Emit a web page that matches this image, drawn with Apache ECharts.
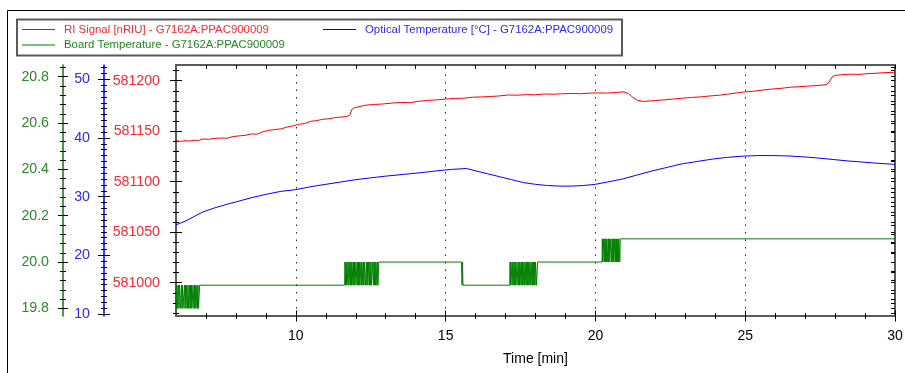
<!DOCTYPE html>
<html><head><meta charset="utf-8">
<script src="https://cdn.jsdelivr.net/npm/echarts@6/dist/echarts.min.js"></script>
<style>html,body{margin:0;padding:0;background:#fff}#c{width:905px;height:373px}</style>
</head><body><div id="c"></div>
<script>
// ---------- DATA ----------
const riName = 'RI Signal [nRIU] - G7162A:PPAC900009';
const optName = 'Optical Temperature [°C] - G7162A:PPAC900009';
const boardName = 'Board Temperature - G7162A:PPAC900009';

const riTime = [6.0,6.15,6.3,6.45,6.6,6.75,6.9,7.1,7.3,7.5,7.7,7.9,8.1,8.3,8.5,8.7,8.9,9.1,9.3,9.5,9.7,9.9,10.1,10.3,10.5,10.7,10.9,11.1,11.3,11.5,11.7,11.8,11.87,11.95,12.1,12.3,12.6,12.9,13.2,13.5,13.8,14.1,14.4,14.7,15.0,15.3,15.6,15.9,16.2,16.5,16.8,17.1,17.4,17.7,18.0,18.3,18.6,18.9,19.2,19.5,19.8,20.1,20.4,20.7,20.95,21.1,21.25,21.4,21.6,21.8,22.0,22.3,22.6,22.9,23.2,23.5,23.8,24.1,24.4,24.7,25.0,25.3,25.6,25.9,26.2,26.5,26.8,27.1,27.4,27.7,27.8,27.9,28.0,28.2,28.5,28.8,29.1,29.4,29.7,30.0];
const riValue = [581140.5,581139.8,581140.6,581140.2,581141.0,581140.8,581142.2,581142.0,581142.9,581143.2,581143.0,581144.6,581145.3,581145.8,581147.2,581147.0,581149.4,581150.8,581151.6,581152.2,581154.0,581155.2,581156.8,581157.6,581159.8,581160.4,581161.8,581162.2,581163.4,581163.9,581164.6,581166.0,581171.5,581173.2,581174.2,581175.6,581176.4,581176.9,581177.8,581178.4,581178.2,581179.6,581180.4,581181.0,581181.8,581182.4,581182.6,581183.6,581183.9,581184.3,581184.9,581185.8,581185.6,581186.2,581186.0,581186.8,581186.6,581187.0,581187.3,581187.1,581187.6,581187.9,581187.7,581188.4,581188.9,581187.2,581183.5,581180.6,581179.4,581179.9,581180.3,581181.0,581181.8,581182.6,581183.4,581183.9,581184.8,581185.5,581186.6,581187.8,581188.9,581189.6,581190.8,581191.7,581192.4,581193.5,581194.0,581194.6,581195.2,581196.0,581198.5,581203.5,581205.2,581205.8,581206.4,581206.2,581207.0,581207.4,581208.0,581208.3];

const optTime = [6.0,6.3,6.6,6.9,7.3,7.7,8.0,8.5,9.0,9.5,10.0,10.5,11.0,11.5,12.0,12.5,13.0,13.6,14.2,14.7,15.2,15.7,16.0,16.4,16.8,17.2,17.6,18.0,18.4,18.8,19.2,19.6,20.0,20.4,20.9,21.4,21.9,22.4,22.9,23.4,23.9,24.4,24.9,25.4,25.9,26.4,26.9,27.4,27.9,28.4,28.9,29.4,30.0];
const optValue = [25.2,25.8,26.6,27.4,28.1,28.7,29.1,29.8,30.4,30.9,31.2,31.7,32.1,32.5,32.9,33.2,33.5,33.8,34.1,34.4,34.65,34.8,34.4,33.9,33.4,32.9,32.4,32.1,31.9,31.8,31.8,31.9,32.1,32.5,33.0,33.7,34.4,35.0,35.6,36.0,36.4,36.7,36.9,37.0,37.0,36.95,36.8,36.6,36.35,36.1,35.9,35.7,35.5];

const boardTime = [6.79,11.63,12.77,15.53,15.55,15.56,15.58,15.61,17.14,18.07,20.22,20.83,30.0];
const boardValue = [19.9,19.9,20.0,20.0,19.9,20.0,19.9,19.9,19.9,20.0,20.0,20.1,20.1];
const boardSamplePeriod = 1 / 60; // 1 s samples inside the noisy stretches
const boardNoiseStart = [6.0, 11.64, 17.15, 20.23];
const boardNoise1 = [19.9,19.8,19.9,19.8,19.8,19.9,19.8,19.9,19.9,19.8,19.8,19.9,19.8,19.9,19.8,19.8,19.8,19.9,19.8,19.9,19.8,19.9,19.9,19.8,19.9,19.8,19.8,19.9,19.8,19.9,19.8,19.9,19.8,19.8,19.9,19.9,19.8,19.9,19.8,19.9,19.8,19.8,19.9,19.8,19.9,19.8,19.8];
const boardNoise2 = [20.0,19.9,20.0,19.9,20.0,20.0,19.9,20.0,19.9,19.9,20.0,19.9,20.0,19.9,20.0,20.0,19.9,20.0,19.9,20.0,19.9,19.9,20.0,20.0,19.9,20.0,19.9,20.0,19.9,20.0,19.9,19.9,20.0,19.9,20.0,20.0,19.9,20.0,19.9,20.0,20.0,19.9,19.9,20.0,19.9,20.0,19.9,20.0,20.0,19.9,20.0,19.9,20.0,19.9,19.9,20.0,20.0,19.9,20.0,19.9,20.0,19.9,20.0,20.0,19.9,20.0,19.9];
const boardNoise3 = [20.0,19.9,20.0,20.0,19.9,20.0,19.9,19.9,20.0,19.9,20.0,19.9,20.0,20.0,19.9,19.9,20.0,19.9,20.0,19.9,20.0,20.0,19.9,20.0,19.9,20.0,19.9,19.9,20.0,19.9,20.0,20.0,19.9,20.0,19.9,20.0,19.9,20.0,19.9,19.9,20.0,19.9,20.0,20.0,19.9,20.0,19.9,20.0,19.9,20.0,19.9,20.0,20.0,19.9,19.9];
const boardNoise4 = [20.1,20.0,20.1,20.1,20.0,20.1,20.0,20.1,20.0,20.1,20.1,20.0,20.1,20.0,20.1,20.0,20.0,20.1,20.1,20.0,20.1,20.0,20.1,20.0,20.1,20.1,20.0,20.1,20.0,20.1,20.0,20.1,20.0,20.1,20.1,20.0];

const xTickLabels = [10, 15, 20, 25, 30];
const xGridLines = [10, 15, 20, 25];
const riTickLabels = [581000, 581050, 581100, 581150, 581200];
const optTickLabels = [10, 20, 30, 40, 50];
const boardTickLabels = [19.8, 20.0, 20.2, 20.4, 20.6, 20.8];

const xRange = [6, 30];
const riRange = [580967, 581215.5];
const optRange = [9.66, 52.44];
const boardRange = [19.767, 20.8505];

// ---------- BUILD ----------
const zip = (a, b) => a.map((v, i) => [v, b[i]]);
function steps(lo, hi, step, dec) {
  const out = [];
  for (let v = Math.ceil(lo / step - 1e-9) * step; v <= hi + 1e-9; v += step) out.push(+v.toFixed(dec));
  return out;
}
const riData = zip(riTime, riValue);
const optData = zip(optTime, optValue);
let boardData = zip(boardTime, boardValue);
[boardNoise1, boardNoise2, boardNoise3, boardNoise4].forEach((blk, k) => {
  blk.forEach((v, i) => boardData.push([boardNoiseStart[k] + i * boardSamplePeriod, v]));
});
boardData.sort((a, b) => a[0] - b[0]);

const xMinor = steps(7, 29, 1, 0);
const riMinor = steps(riRange[0], riRange[1], 10, 0);
const optMinor = steps(optRange[0], optRange[1], 1, 0);
const boardMinor = steps(boardRange[0], boardRange[1], 0.04, 2);

const FONT = 'Liberation Sans';
const BLK = '#000';
const RED = '#ff0000', BLUE = '#0000ff', GREEN = '#008000';

function yAx(range, o) {
  return {
    type: 'value', gridIndex: 0, min: range[0], max: range[1],
    position: o.pos || 'left', offset: o.offset || 0,
    axisLine: { show: !!o.line, onZero: false, lineStyle: { color: o.line || BLK, width: 1.5 } },
    axisTick: { show: !!o.ticks, inside: !!o.inside, length: o.len || 0, customValues: o.ticks || [], lineStyle: { color: BLK, width: 1 } },
    axisLabel: o.labels ? { show: true, customValues: o.labels, color: o.lc, fontSize: 14.2, fontFamily: FONT, margin: o.margin, formatter: o.fmt || (v => String(v)) } : { show: false },
    splitLine: { show: false }
  };
}
function xAx(o) {
  return Object.assign({
    type: 'value', gridIndex: 0, min: xRange[0], max: xRange[1],
    position: o.pos || 'bottom', offset: o.offset || 0,
    axisLine: { show: false, onZero: false },
    axisTick: { show: !!o.ticks, inside: !!o.inside, length: o.len || 0, customValues: o.ticks || [], lineStyle: { color: BLK, width: 1 } },
    axisLabel: o.labels ? { show: true, customValues: o.labels, color: BLK, fontSize: 14, fontFamily: FONT, margin: o.margin, formatter: v => String(v) } : { show: false },
    splitLine: { show: false }
  }, o.extra || {});
}

const chart = echarts.init(document.getElementById('c'), null, { renderer: 'canvas' });
chart.setOption({
  animation: false,
  backgroundColor: '#fff',
  textStyle: { fontFamily: FONT },
  graphic: [
    { type: 'rect', silent: true, z: -10, shape: { x: 7.5, y: 10.5, width: 1000, height: 1000 }, style: { fill: 'none', stroke: '#000', lineWidth: 1 } },
    { type: 'rect', silent: true, shape: { x: 17, y: 19.5, width: 605, height: 36 }, style: { fill: 'none', stroke: '#5a5a5a', lineWidth: 2 } }
  ],
  legend: [
    { data: [{ name: riName, icon: 'rect', textStyle: { color: '#ff2a2a' } }], left: 22, top: 24 },
    { data: [{ name: optName, icon: 'rect', textStyle: { color: '#2a2aff' } }], left: 323, top: 24 },
    { data: [{ name: boardName, icon: 'rect', textStyle: { color: '#1f8a1f' } }], left: 22, top: 39.5 }
  ].map(l => Object.assign(l, { padding: 0, itemWidth: 33, itemHeight: 1, itemGap: 0, selectedMode: false,
      textStyle: Object.assign({ fontSize: 11.4, fontFamily: FONT, padding: [0, 0, 0, 4] }, l.data[0].textStyle) })),
  grid: { left: 176, top: 65, right: 10, bottom: 57, show: true, borderColor: '#5a5a5a', borderWidth: 2, containLabel: false, outerBoundsMode: 'none' },
  xAxis: [
    xAx({ extra: { name: 'Time [min]', nameLocation: 'middle', nameGap: 36, nameTextStyle: { fontSize: 14, color: BLK, fontFamily: FONT } } }),
    xAx({ offset: -5.5, len: 11, ticks: xTickLabels, labels: xTickLabels, margin: 18.5 }),
    xAx({ offset: -3, len: 6, ticks: xMinor }),
    xAx({ pos: 'top', inside: true, len: 4, ticks: xMinor.concat(xTickLabels) })
  ],
  yAxis: [
    yAx(riRange, { offset: -6, len: 12, ticks: riTickLabels, labels: riTickLabels, lc: '#ff2a2a', margin: 22 }),
    yAx(riRange, { offset: -3, len: 6, ticks: riMinor }),
    yAx(optRange, { offset: 72, line: BLUE }),
    yAx(optRange, { offset: 66, len: 12, ticks: optTickLabels, labels: optTickLabels, lc: '#2a2aff', margin: 20 }),
    yAx(optRange, { offset: 69, len: 6, ticks: optMinor }),
    yAx(boardRange, { offset: 113, line: GREEN }),
    yAx(boardRange, { offset: 108, len: 10, ticks: boardTickLabels, labels: boardTickLabels, lc: '#2a8a2a', margin: 19, fmt: v => (+v).toFixed(1) }),
    yAx(boardRange, { offset: 110, len: 6, ticks: boardMinor }),
    yAx(riRange, { pos: 'right', inside: true, len: 4, ticks: riMinor }),
    yAx(boardRange, { pos: 'right', inside: true, len: 4, ticks: boardMinor })
  ],
  series: [
    { name: riName, type: 'line', xAxisIndex: 0, yAxisIndex: 0, data: riData, symbol: 'none', showSymbol: false,
      color: RED, lineStyle: { color: RED, width: 1 }, z: 3,
      markLine: { silent: true, symbol: 'none', label: { show: false }, animation: false,
        lineStyle: { color: '#222', type: [1.5, 6], width: 1 },
        data: xGridLines.map(v => ({ xAxis: v })) } },
    { name: optName, type: 'line', xAxisIndex: 0, yAxisIndex: 3, data: optData, symbol: 'none', showSymbol: false,
      color: BLUE, lineStyle: { color: BLUE, width: 1 }, z: 3 },
    { name: boardName, type: 'line', xAxisIndex: 0, yAxisIndex: 6, data: boardData, symbol: 'none', showSymbol: false,
      color: GREEN, lineStyle: { color: GREEN, width: 1 }, z: 3 }
  ]
});
</script>
</body></html>
